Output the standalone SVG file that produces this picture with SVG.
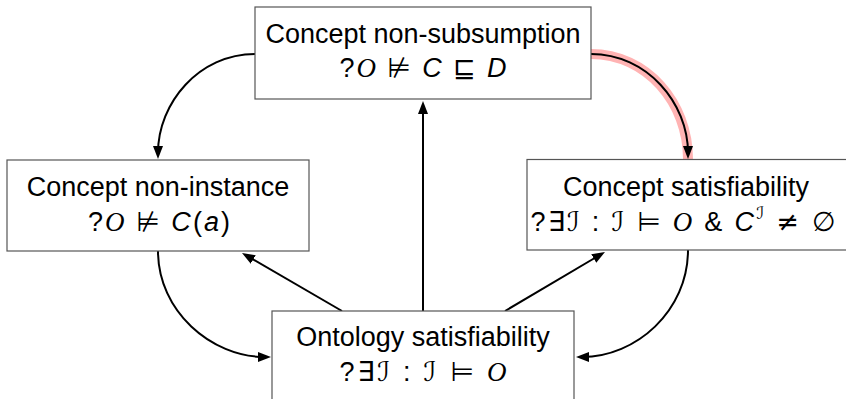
<svg xmlns="http://www.w3.org/2000/svg" width="846" height="399" viewBox="0 0 846 399">
<style>
.box{fill:#fff;stroke:#555;stroke-width:1.2}
.t{font-family:"Liberation Sans",Arial,sans-serif;font-size:27px;fill:#000;text-anchor:middle}
.s{font-family:"DejaVu Sans",sans-serif}
.i{font-style:italic}
.cal{font-family:"Liberation Serif","Times New Roman",serif;font-style:italic}
.sup{font-family:"DejaVu Sans",sans-serif;font-size:17px}
.conn{fill:none;stroke:#000;stroke-width:2;marker-end:url(#ah)}
.hl{fill:none;stroke:#ffb3b3;stroke-width:10}
</style>
<defs>
<marker id="ah" markerUnits="userSpaceOnUse" markerWidth="14" markerHeight="11" refX="7" refY="5" orient="auto">
<path d="M0,0 L13,5 L0,10 Z" fill="#000"/>
</marker>
</defs>
<g id="connectors">
<path class="hl" d="M591,54 C647,54 688,103 688,159"/>
<path class="conn" d="M255,54 C199,54 158,103 158,153"/>
<path class="conn" d="M591,54 C647,54 688,103 688,153"/>
<path class="conn" d="M423,311 L423,107"/>
<path class="conn" d="M342,311 L247.2,256"/>
<path class="conn" d="M505,311 L599.8,255"/>
<path class="conn" d="M158,251 C158,311 211,357 265,357"/>
<path class="conn" d="M688,250 C688,311 636,357 582,357"/>
</g>
<g id="subsumption">
<rect class="box" x="255" y="7" width="336" height="92"/>
<text class="t" x="423" y="43">Concept non-subsumption</text>
<text class="t" x="423" y="77" textLength="167">?<tspan class="cal">O</tspan> <tspan class="s">⊭</tspan> <tspan class="i">C</tspan> <tspan class="s">⊑</tspan> <tspan class="i">D</tspan></text>
</g>
<g id="instance">
<rect class="box" x="7" y="160" width="302" height="91"/>
<text class="t" x="158" y="196">Concept non-instance</text>
<text class="t" x="159" y="231" textLength="142">?<tspan class="cal">O</tspan> <tspan class="s">⊭</tspan> <tspan class="i">C</tspan>(<tspan class="i">a</tspan>)</text>
</g>
<g id="satisfiability">
<rect class="box" x="527" y="159.5" width="325" height="90.5"/>
<text class="t" x="686" y="196">Concept satisfiability</text>
<text class="t" x="683" y="231" textLength="305">?<tspan class="s">∃ℐ</tspan> : <tspan class="s">ℐ ⊨</tspan> <tspan class="cal">O</tspan> &amp; <tspan class="i">C</tspan><tspan class="sup" dy="-12">ℐ</tspan><tspan dy="12"> </tspan><tspan class="s">≠ ∅</tspan></text>
</g>
<g id="ontology">
<rect class="box" x="272" y="311" width="302" height="100"/>
<text class="t" x="423" y="346">Ontology satisfiability</text>
<text class="t" x="423" y="381" textLength="167">?<tspan class="s">∃ℐ</tspan> : <tspan class="s">ℐ ⊨</tspan> <tspan class="cal">O</tspan></text>
</g>
</svg>
